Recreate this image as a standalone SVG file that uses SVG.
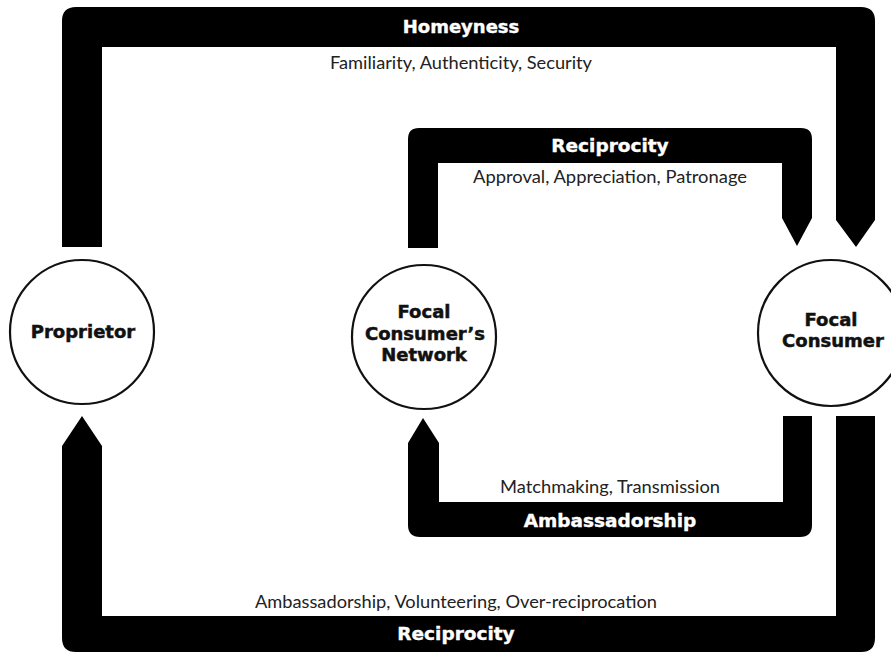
<svg xmlns="http://www.w3.org/2000/svg" width="891" height="653" viewBox="0 0 891 653">
<style>
.band{fill:#000;stroke:none}
.node{fill:#fff;stroke:#111;stroke-width:2.2}
.ntxt{font-family:"DejaVu Sans",sans-serif;font-weight:bold;font-size:18px;fill:#111;stroke:#111;stroke-width:0.5;text-anchor:middle}
.head{font-family:"DejaVu Sans",sans-serif;font-weight:bold;font-size:18.5px;fill:#fff;stroke:#fff;stroke-width:0.4;text-anchor:middle}
.sub{font-family:Lato,"Open Sans",sans-serif;font-size:16.5px;fill:#222;text-anchor:middle}
</style>
<rect width="891" height="653" fill="#fff"/>
<g id="connectors">
  <g id="homeyness">
    <path class="band" d="M62,247 L62,21 Q62,7 76,7 L861,7 Q875,7 875,21 L875,220 L856,247 L836,220 L836,47 L102,47 L102,247 Z"/>
    <text class="head" x="461" y="33" style="font-size:18px">Homeyness</text>
    <text class="sub" x="461" y="69" textLength="262" lengthAdjust="spacingAndGlyphs">Familiarity, Authenticity, Security</text>
  </g>
  <g id="reciprocity-top">
    <path class="band" d="M408,248 L408,139 Q408,128 419,128 L801,128 Q812,128 812,139 L812,218 L797,246 L782,218 L782,163 L438,163 L438,248 Z"/>
    <text class="head" x="610" y="152">Reciprocity</text>
    <text class="sub" x="610" y="183" textLength="274" lengthAdjust="spacingAndGlyphs">Approval, Appreciation, Patronage</text>
  </g>
  <g id="ambassadorship">
    <path class="band" d="M423,418 L439,443 L439,502 L783,502 L783,416 L812,416 L812,525 Q812,537 800,537 L420,537 Q408,537 408,525 L408,443 Z"/>
    <text class="sub" x="610" y="493" textLength="220" lengthAdjust="spacingAndGlyphs">Matchmaking, Transmission</text>
    <text class="head" x="610" y="527">Ambassadorship</text>
  </g>
  <g id="reciprocity-bottom">
    <path class="band" d="M82,416 L102,446 L102,616 L836,616 L836,416 L875,416 L875,638 Q875,652 861,652 L76,652 Q62,652 62,638 L62,446 Z"/>
    <text class="sub" x="456" y="608" textLength="402" lengthAdjust="spacingAndGlyphs">Ambassadorship, Volunteering, Over-reciprocation</text>
    <text class="head" x="456" y="640">Reciprocity</text>
  </g>
</g>
<g id="proprietor">
  <circle class="node" cx="82" cy="332" r="72"/>
  <text class="ntxt" x="83" y="338">Proprietor</text>
</g>
<g id="network">
  <circle class="node" cx="424" cy="337" r="72"/>
  <text class="ntxt" x="424" y="318">Focal</text>
  <text class="ntxt" x="425" y="340">Consumer’s</text>
  <text class="ntxt" x="424" y="361">Network</text>
</g>
<g id="focal-consumer">
  <circle class="node" cx="831" cy="333" r="73"/>
  <text class="ntxt" x="831" y="326">Focal</text>
  <text class="ntxt" x="833" y="347">Consumer</text>
</g>
</svg>
